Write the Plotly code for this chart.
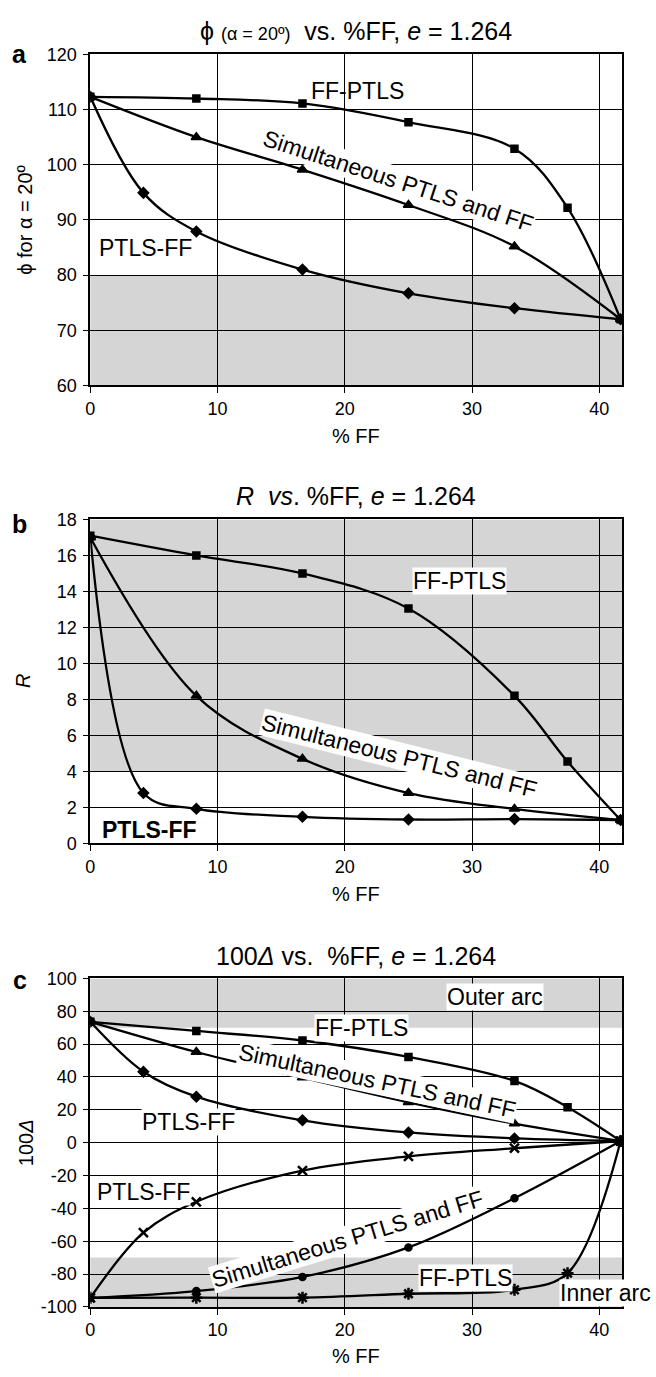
import plotly.graph_objects as go

# ---------------- data ----------------
x_ffptls = [0, 8.33, 16.67, 25, 33.33, 37.5, 41.67]
x_sim = [0, 8.33, 16.67, 25, 33.33, 41.67]
x_ptlsff = [0, 4.17, 8.33, 16.67, 25, 33.33, 41.67]

phi_ffptls = [112.3, 112.0, 111.1, 107.7, 102.9, 92.2, 72.0]
phi_sim = [112.3, 105.0, 99.1, 92.7, 85.2, 72.0]
phi_ptlsff = [112.3, 94.9, 87.9, 81.0, 76.7, 74.0, 72.0]

r_ffptls = [17.1, 16.0, 15.0, 13.05, 8.2, 4.55, 1.3]
r_sim = [17.0, 8.2, 4.7, 2.8, 1.92, 1.3]
r_ptlsff = [17.0, 2.8, 1.92, 1.48, 1.33, 1.35, 1.3]

d_out_ffptls = [73.6, 68.0, 62.2, 52.2, 37.6, 21.6, 1.0]
d_out_sim = [73.6, 55.2, 39.6, 24.6, 11.6, 1.0]
d_out_ptlsff = [73.6, 43.2, 28.0, 13.6, 6.2, 2.6, 1.0]
d_in_ptlsff = [-94.5, -54.8, -36.0, -17.0, -8.4, -3.4, 1.0]
d_in_sim = [-94.5, -90.4, -81.8, -63.8, -33.8, 1.0]
d_in_ffptls = [-94.5, -94.4, -94.4, -92.0, -89.6, -79.5, 1.0]

shade_a = [(60, 80)]
shade_b = [(4, 18)]
shade_c = [(70, 100), (-100, -70)]

x_ticks = [0, 10, 20, 30, 40]
y_ticks_a = [60, 70, 80, 90, 100, 110, 120]
y_ticks_b = [0, 2, 4, 6, 8, 10, 12, 14, 16, 18]
y_ticks_c = [-100, -80, -60, -40, -20, 0, 20, 40, 60, 80, 100]

# ---------------- layout helpers ----------------
W, H = 656, 1377
PL, PR = 86, 622
panels = [(45, 381), (517, 845.7), (982.7, 1316)]
FONT = "Liberation Sans, Arial, sans-serif"
GRAY = "#d5d5d5"


def px_x(px):
    return px / W


def px_y(py):
    return 1 - py / H


fig = go.Figure()


def add(x, y, sym, size, k, mlw=1.5):
    xa = "x" if k == 1 else f"x{k}"
    ya = "y" if k == 1 else f"y{k}"
    fig.add_trace(go.Scatter(
        x=x, y=y, mode="lines+markers", xaxis=xa, yaxis=ya,
        line=dict(color="black", width=2.3, shape="spline", smoothing=1),
        marker=dict(symbol=sym, size=size, color="black",
                    line=dict(color="black", width=mlw)),
        showlegend=False, hoverinfo="skip"))


# panel a
add(x_ptlsff, phi_ptlsff, "diamond", 8, 1)
add(x_sim, phi_sim, "triangle-up", 9, 1)
add(x_ffptls, phi_ffptls, "square", 7, 1)
# panel b
add(x_ptlsff, r_ptlsff, "diamond", 8, 2)
add(x_sim, r_sim, "triangle-up", 9, 2)
add(x_ffptls, r_ffptls, "square", 7, 2)
# panel c
add(x_ptlsff, d_out_ptlsff, "diamond", 8, 3)
add(x_sim, d_out_sim, "triangle-up", 9, 3)
add(x_ffptls, d_out_ffptls, "square", 7, 3)
add(x_ptlsff, d_in_ptlsff, "x-thin-open", 9, 3, mlw=2.5)
add(x_sim, d_in_sim, "circle", 7, 3)
add(x_ffptls, d_in_ffptls, "asterisk-open", 10, 3, mlw=2.5)

layout = dict(
    width=W, height=H, margin=dict(l=0, r=0, t=0, b=0),
    paper_bgcolor="white", plot_bgcolor="white",
    font=dict(family=FONT, color="black", size=18),
    showlegend=False,
)

yticks = [y_ticks_a, y_ticks_b, y_ticks_c]
yranges = [[60, 120], [0, 18], [-100, 100]]
for i, (top, bot) in enumerate(panels):
    k = i + 1
    sx = "" if k == 1 else str(k)
    layout[f"xaxis{sx}"] = dict(
        domain=[px_x(PL), px_x(PR)], range=[0, 41.8],
        anchor=f"y{sx}", tickvals=x_ticks, ticktext=[str(v) for v in x_ticks],
        showgrid=True, gridcolor="black", gridwidth=1, zeroline=False,
        showline=True, linecolor="black", linewidth=2, mirror=True,
        ticks="outside", ticklen=6, tickcolor="black", tickwidth=1,
        tickfont=dict(size=18, family=FONT), fixedrange=True)
    layout[f"yaxis{sx}"] = dict(
        domain=[px_y(bot), px_y(top)], range=yranges[i],
        anchor=f"x{sx}", tickvals=yticks[i],
        ticktext=[str(v) for v in yticks[i]],
        showgrid=True, gridcolor="black", gridwidth=1, zeroline=False,
        showline=True, linecolor="black", linewidth=2, mirror=True,
        ticks="outside", ticklen=5, tickcolor="black", tickwidth=1,
        ticklabelstandoff=3,
        tickfont=dict(size=18, family=FONT), fixedrange=True)

fig.update_layout(**layout)

# shaded bands
for k, bands in ((1, shade_a), (2, shade_b), (3, shade_c)):
    sx = "" if k == 1 else str(k)
    for lo, hi in bands:
        fig.add_shape(type="rect", xref=f"x{sx} domain", yref=f"y{sx}",
                      x0=0, x1=1, y0=lo, y1=hi, fillcolor=GRAY,
                      line=dict(width=0), layer="below")

ann = []
# titles
titles = [
    ("ϕ <span style='font-size:18px'>(α = 20º)</span>  vs. %FF, <i>e</i> = 1.264", 21.7),
    ("<i>R</i>  <i>vs</i>. %FF, <i>e</i> = 1.264", 493),
    ("100<i>Δ</i> vs.  %FF, <i>e</i> = 1.264", 960),
]
for t, py in titles:
    ann.append(dict(text=t, xref="paper", yref="paper", x=px_x(354), y=px_y(py),
                    xanchor="center", yanchor="middle", showarrow=False,
                    font=dict(size=25, family=FONT)))
# panel letters
for lab_, py in (("a", 45), ("b", 522), ("c", 984)):
    ann.append(dict(text=f"<b>{lab_}</b>", xref="paper", yref="paper", x=px_x(15),
                    y=px_y(py), xanchor="center", yanchor="middle", showarrow=False,
                    font=dict(size=25, family=FONT)))
# x axis titles
for py in (432, 897, 1366):
    ann.append(dict(text="% FF", xref="paper", yref="paper", x=px_x(354), y=px_y(py),
                    xanchor="center", yanchor="middle", showarrow=False,
                    font=dict(size=20, family=FONT)))
# y axis titles
for t, px, py in (("ϕ for α = 20º", 20, 213), ("<i>R</i>", 18, 681), ("100<i>Δ</i>", 21, 1149)):
    ann.append(dict(text=t, xref="paper", yref="paper", x=px_x(px), y=px_y(py),
                    xanchor="center", yanchor="middle", showarrow=False, textangle=-90,
                    font=dict(size=20, family=FONT)))


def lab(text, x, y, k, angle=0, bg=True, size=23, **kw):
    sx = "" if k == 1 else str(k)
    d = dict(text=text, xref=f"x{sx}", yref=f"y{sx}", x=x, y=y, showarrow=False,
             textangle=angle, xanchor="center", yanchor="middle",
             font=dict(size=size, family=FONT), borderpad=0)
    d.update(kw)
    if bg:
        d["bgcolor"] = "white"
    ann.append(d)


lab("FF-PTLS", 21.0, 113.4, 1, bg=False)
lab("Simultaneous PTLS and FF", 24.2, 97.0, 1, angle=18)
lab("PTLS-FF", 4.35, 84.9, 1, bg=False)

lab("FF-PTLS", 29.0, 14.6, 2)
lab("Simultaneous PTLS and FF", 24.3, 4.87, 2, angle=14)
lab("<b>PTLS-FF</b>", 4.65, 0.77, 2, bg=False)

lab("Outer arc", 31.8, 88.6, 3)
lab("FF-PTLS", 21.3, 69.6, 3)
lab("Simultaneous PTLS and FF", 22.6, 37.6, 3, angle=12)
lab("PTLS-FF", 7.7, 12.6, 3)
lab("PTLS-FF", 4.15, -30, 3)
lab("Simultaneous PTLS and FF", 20.2, -58.4, 3, angle=-17)
lab("FF-PTLS", 29.5, -82.4, 3)
ann.append(dict(text="Inner arc", xref="paper", yref="y3", x=px_x(652), y=-91.4,
                showarrow=False, xanchor="right", yanchor="middle",
                font=dict(size=23, family=FONT), bgcolor="white", borderpad=0))

fig.update_layout(annotations=ann)
fig.write_html("out.html",
               config={"displayModeBar": False, "staticPlot": True},
               post_script="document.body.style.margin='0';document.body.style.overflow='hidden';")
